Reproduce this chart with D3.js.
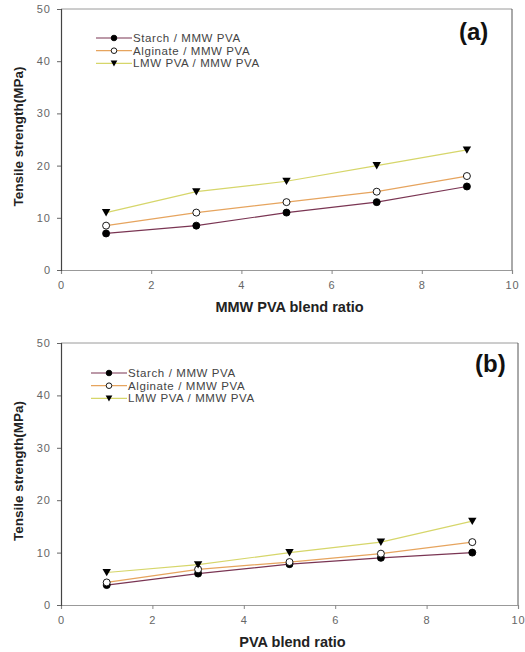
<!DOCTYPE html>
<html>
<head>
<meta charset="utf-8">
<script src="https://cdn.jsdelivr.net/npm/d3@7"></script>
<style>
  body { margin: 0; background: #fff; }
  svg { font-family: "Liberation Sans", Arial, sans-serif; }
</style>
</head>
<body>
<div id="chart"></div>
<script>
const ratios = [1, 3, 5, 7, 9];
const seriesNames = ["Starch / MMW PVA", "Alginate / MMW PVA", "LMW PVA / MMW PVA"];
const starchA = [7, 8.5, 11, 13, 16];
const alginateA = [8.5, 11, 13, 15, 18];
const lmwA = [11, 15, 17, 20, 23];
const starchB = [3.8, 6, 7.8, 9, 10];
const alginateB = [4.3, 6.8, 8.2, 9.8, 12];
const lmwB = [6.2, 7.7, 10, 12, 16];
const xTicks = [0, 2, 4, 6, 8, 10];
const yTicks = [0, 10, 20, 30, 40, 50];

const lineColors = ["#7a3553", "#e6a45e", "#d6d66a"];
const symbols = ["filled", "open", "triangle"];

const svg = d3.select('#chart')
    .append('svg')
    .attr('width', 525)
    .attr('height', 652);

const panels = [
    { tag: "(a)", xLabel: "MMW PVA blend ratio", data: [starchA, alginateA, lmwA],
      left: 61, right: 512, top: 9, bottom: 270, legX: 96, legY: 38, tagX: 459, tagY: 40 },
    { tag: "(b)", xLabel: "PVA blend ratio", data: [starchB, alginateB, lmwB],
      left: 61, right: 518, top: 343, bottom: 605, legX: 91, legY: 373, tagX: 475, tagY: 372 }
];

function drawMarker(g, kind, x, y, s) {
    if (kind === "triangle") {
        g.append('path')
            .attr('d', `M${x - s * 1.2},${y - s} L${x + s * 1.2},${y - s} L${x},${y + s * 1.1} Z`)
            .attr('fill', '#000');
    } else {
        g.append('circle')
            .attr('cx', x).attr('cy', y).attr('r', s)
            .attr('fill', kind === "filled" ? '#000' : '#fff')
            .attr('stroke', '#000').attr('stroke-width', 0.9);
    }
}

panels.forEach(p => {
    const x = d3.scaleLinear().domain([0, 10]).range([p.left, p.right]);
    const y = d3.scaleLinear().domain([0, 50]).range([p.bottom, p.top]);
    const g = svg.append('g');

    // frame
    g.append('line').attr('x1', p.left).attr('x2', p.right).attr('y1', p.top).attr('y2', p.top)
        .attr('stroke', '#9a9a9a');
    g.append('line').attr('x1', p.right).attr('x2', p.right).attr('y1', p.top).attr('y2', p.bottom)
        .attr('stroke', '#555');

    const xAxis = g.append('g')
        .attr('transform', `translate(0,${p.bottom})`)
        .call(d3.axisBottom(x).tickValues(xTicks).tickSize(4).tickPadding(7));
    xAxis.select('.domain').attr('stroke', '#999').attr('stroke-width', 1.2);
    xAxis.selectAll('.tick line').attr('stroke', '#888');
    xAxis.selectAll('text').attr('fill', '#666').attr('font-size', 11).attr('letter-spacing', 1);

    const yAxis = g.append('g')
        .attr('transform', `translate(${p.left},0)`)
        .call(d3.axisLeft(y).tickValues(yTicks).tickSize(4).tickPadding(6));
    yAxis.select('.domain').attr('stroke', '#444').attr('stroke-width', 1.2);
    yAxis.selectAll('.tick line').attr('stroke', '#666');
    yAxis.selectAll('text').attr('fill', '#666').attr('font-size', 11).attr('letter-spacing', 1);

    g.append('text')
        .attr('x', (p.left + p.right) / 2 + 3)
        .attr('y', p.bottom + 42)
        .attr('text-anchor', 'middle')
        .attr('font-weight', 'bold')
        .attr('font-size', 14.5)
        .attr('fill', '#222')
        .text(p.xLabel);

    g.append('text')
        .attr('transform', `translate(23,${(p.top + p.bottom) / 2 - 3}) rotate(-90)`)
        .attr('text-anchor', 'middle')
        .attr('font-weight', 'bold')
        .attr('font-size', 13.5)
        .attr('fill', '#222')
        .text("Tensile strength(MPa)");

    g.append('text')
        .attr('x', p.tagX).attr('y', p.tagY)
        .attr('font-size', 24)
        .attr('font-weight', 'bold')
        .attr('fill', '#111')
        .text(p.tag);

    const line = d3.line().x((d, i) => x(ratios[i])).y(d => y(d));
    p.data.forEach((vals, si) => {
        g.append('path')
            .datum(vals)
            .attr('d', line)
            .attr('fill', 'none')
            .attr('stroke', lineColors[si])
            .attr('stroke-width', 1.2);
    });
    p.data.forEach((vals, si) => {
        vals.forEach((v, i) => drawMarker(g, symbols[si], x(ratios[i]), y(v), 3.5));
    });

    // legend
    seriesNames.forEach((name, si) => {
        const ly = p.legY + si * 12.7;
        g.append('line')
            .attr('x1', p.legX).attr('x2', p.legX + 36)
            .attr('y1', ly).attr('y2', ly)
            .attr('stroke', lineColors[si]).attr('stroke-width', 1.2);
        drawMarker(g, symbols[si], p.legX + 18, ly, 2.8);
        g.append('text')
            .attr('x', p.legX + 37).attr('y', ly + 4)
            .attr('font-size', 11.5)
            .attr('letter-spacing', 0.6)
            .attr('fill', '#444')
            .text(name);
    });
});
</script>
</body>
</html>
